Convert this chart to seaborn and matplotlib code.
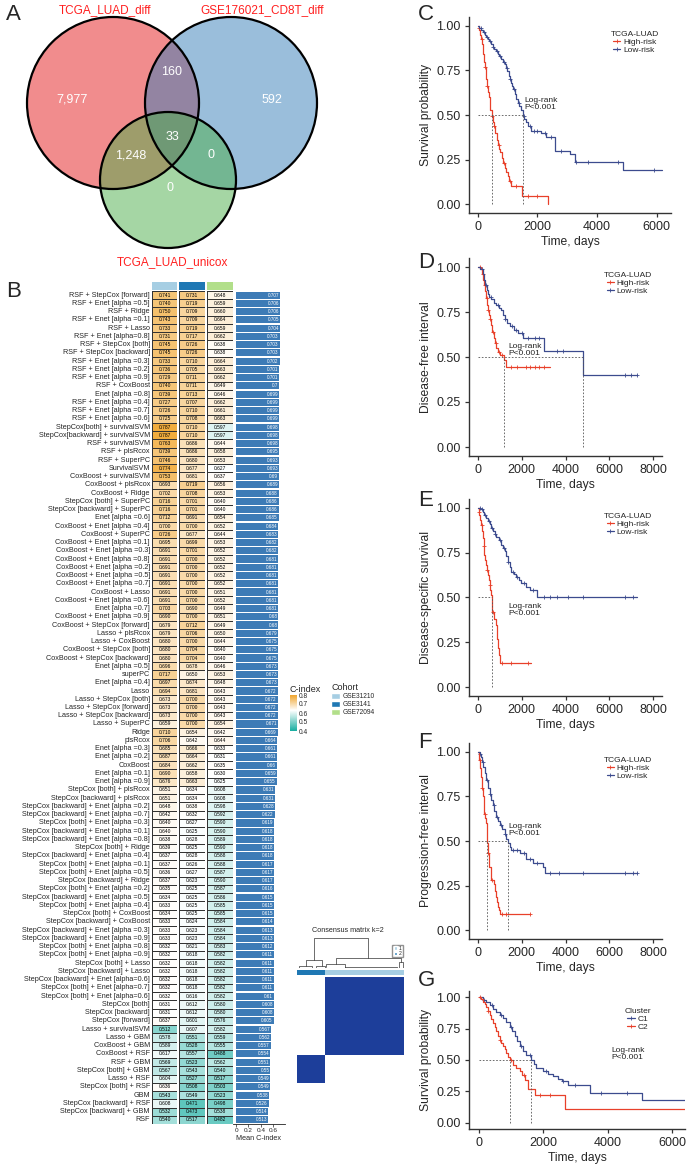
import numpy as np
import pandas as pd
import matplotlib
matplotlib.use("Agg")
import matplotlib.pyplot as plt
import matplotlib.colors as mcolors
import matplotlib.cm as cm
from matplotlib.colors import LinearSegmentedColormap, ListedColormap
from matplotlib.patches import Circle, Patch
from matplotlib.lines import Line2D
import seaborn as sns

# ---------------- data ----------------
# panel A
venn_sets = ["TCGA_LUAD_diff", "GSE176021_CD8T_diff", "TCGA_LUAD_unicox"]
venn_regions = ["diff", "cd8t", "unicox", "diff_cd8t", "diff_unicox", "cd8t_unicox", "all"]
venn_counts = [7977, 592, 0, 160, 1248, 0, 33]

# panel B
models = [
    "RSF + StepCox [forward]", "RSF + Enet [alpha =0.5]", "RSF + Ridge", "RSF + Enet [alpha =0.1]",
    "RSF + Lasso", "RSF + Enet [alpha=0.8]", "RSF + StepCox [both]", "RSF + StepCox [backward]",
    "RSF + Enet [alpha =0.3]", "RSF + Enet [alpha =0.2]", "RSF + Enet [alpha =0.9]", "RSF + CoxBoost",
    "Enet [alpha =0.8]", "RSF + Enet [alpha =0.4]", "RSF + Enet [alpha =0.7]", "RSF + Enet [alpha =0.6]",
    "StepCox[both] + survivalSVM", "StepCox[backward] + survivalSVM", "RSF + survivalSVM", "RSF + plsRcox",
    "RSF + SuperPC", "SurvivalSVM", "CoxBoost + survivalSVM", "CoxBoost + plsRcox", "CoxBoost + Ridge",
    "StepCox [both] + SuperPC", "StepCox [backward] + SuperPC", "Enet [alpha =0.6]",
    "CoxBoost + Enet [alpha =0.4]", "CoxBoost + SuperPC", "CoxBoost + Enet [alpha =0.1]",
    "CoxBoost + Enet [alpha =0.3]", "CoxBoost + Enet [alpha =0.8]", "CoxBoost + Enet [alpha =0.2]",
    "CoxBoost + Enet [alpha =0.5]", "CoxBoost + Enet [alpha =0.7]", "CoxBoost + Lasso",
    "CoxBoost + Enet [alpha =0.6]", "Enet [alpha =0.7]", "CoxBoost + Enet [alpha =0.9]",
    "CoxBoost + StepCox [forward]", "Lasso + plsRcox", "Lasso + CoxBoost", "CoxBoost + StepCox [both]",
    "CoxBoost + StepCox [backward]", "Enet [alpha =0.5]", "superPC", "Enet [alpha =0.4]", "Lasso",
    "Lasso + StepCox [both]", "Lasso + StepCox [forward]", "Lasso + StepCox [backward]", "Lasso + SuperPC",
    "Ridge", "plsRcox", "Enet [alpha =0.3]", "Enet [alpha =0.2]", "CoxBoost", "Enet [alpha =0.1]",
    "Enet [alpha =0.9]", "StepCox [both] + plsRcox", "StepCox [backward] + plsRcox",
    "StepCox [backward] + Enet [alpha =0.2]", "StepCox [backward] + Enet [alpha =0.7]",
    "StepCox [both] + Enet [alpha =0.3]", "StepCox [backward] + Enet [alpha =0.1]",
    "StepCox [backward] + Enet [alpha =0.8]", "StepCox [both] + Ridge",
    "StepCox [backward] + Enet [alpha =0.4]", "StepCox [both] + Enet [alpha =0.1]",
    "StepCox [both] + Enet [alpha =0.5]", "StepCox [backward] + Ridge", "StepCox [both] + Enet [alpha =0.2]",
    "StepCox [backward] + Enet [alpha =0.5]", "StepCox [both] + Enet [alpha =0.4]",
    "StepCox [both] + CoxBoost", "StepCox [backward] + CoxBoost", "StepCox [backward] + Enet [alpha =0.3]",
    "StepCox [backward] + Enet [alpha =0.9]", "StepCox [both] + Enet [alpha =0.8]",
    "StepCox [both] + Enet [alpha =0.9]", "StepCox [both] + Lasso", "StepCox [backward] + Lasso",
    "StepCox [backward] + Enet [alpha=0.6]", "StepCox [both] + Enet [alpha=0.7]",
    "StepCox [both] + Enet [alpha=0.6]", "StepCox [both]", "StepCox [backward]", "StepCox [forward]",
    "Lasso + survivalSVM", "Lasso + GBM", "CoxBoost + GBM", "CoxBoost + RSF", "RSF + GBM",
    "StepCox [both] + GBM", "Lasso + RSF", "StepCox [both] + RSF", "GBM", "StepCox [backward] + RSF",
    "StepCox [backward] + GBM", "RSF",
]
gse31210 = [0.741, 0.740, 0.750, 0.743, 0.733, 0.731, 0.745, 0.745, 0.733, 0.736, 0.729, 0.740, 0.739,
            0.727, 0.726, 0.725, 0.787, 0.787, 0.763, 0.739, 0.746, 0.774, 0.753, 0.693, 0.702, 0.716,
            0.716, 0.712, 0.700, 0.726, 0.695, 0.691, 0.691, 0.691, 0.691, 0.691, 0.691, 0.691, 0.703,
            0.690, 0.679, 0.679, 0.680, 0.680, 0.680, 0.696, 0.717, 0.697, 0.694, 0.673, 0.673, 0.673,
            0.659, 0.710, 0.706, 0.685, 0.687, 0.684, 0.690, 0.676, 0.651, 0.651, 0.648, 0.642, 0.640,
            0.640, 0.638, 0.639, 0.637, 0.637, 0.636, 0.637, 0.635, 0.634, 0.633, 0.634, 0.633, 0.633,
            0.633, 0.632, 0.632, 0.632, 0.632, 0.632, 0.632, 0.632, 0.631, 0.631, 0.637, 0.512, 0.578,
            0.589, 0.617, 0.569, 0.567, 0.604, 0.636, 0.543, 0.608, 0.532, 0.540]
gse3141 = [0.731, 0.719, 0.709, 0.709, 0.719, 0.717, 0.726, 0.726, 0.710, 0.705, 0.711, 0.711, 0.713,
           0.707, 0.710, 0.708, 0.710, 0.710, 0.686, 0.686, 0.680, 0.677, 0.681, 0.719, 0.708, 0.701,
           0.701, 0.691, 0.700, 0.677, 0.699, 0.701, 0.700, 0.700, 0.700, 0.700, 0.700, 0.700, 0.690,
           0.700, 0.712, 0.706, 0.700, 0.704, 0.704, 0.678, 0.650, 0.674, 0.681, 0.700, 0.700, 0.700,
           0.700, 0.654, 0.642, 0.666, 0.664, 0.662, 0.658, 0.663, 0.634, 0.634, 0.638, 0.632, 0.627,
           0.625, 0.628, 0.625, 0.628, 0.626, 0.627, 0.623, 0.625, 0.625, 0.625, 0.625, 0.624, 0.623,
           0.623, 0.621, 0.618, 0.618, 0.618, 0.618, 0.618, 0.616, 0.612, 0.612, 0.601, 0.607, 0.551,
           0.528, 0.557, 0.523, 0.543, 0.527, 0.508, 0.549, 0.471, 0.473, 0.517]
gse72094 = [0.648, 0.659, 0.660, 0.664, 0.659, 0.662, 0.638, 0.638, 0.664, 0.663, 0.662, 0.649, 0.646,
            0.662, 0.661, 0.663, 0.597, 0.597, 0.644, 0.658, 0.653, 0.627, 0.637, 0.656, 0.653, 0.640,
            0.640, 0.654, 0.652, 0.644, 0.653, 0.652, 0.652, 0.652, 0.652, 0.652, 0.651, 0.652, 0.649,
            0.651, 0.649, 0.650, 0.644, 0.640, 0.640, 0.646, 0.653, 0.648, 0.643, 0.643, 0.643, 0.643,
            0.654, 0.642, 0.644, 0.633, 0.631, 0.635, 0.630, 0.625, 0.608, 0.608, 0.598, 0.592, 0.590,
            0.590, 0.589, 0.590, 0.588, 0.588, 0.587, 0.590, 0.587, 0.586, 0.585, 0.585, 0.584, 0.584,
            0.584, 0.583, 0.582, 0.582, 0.582, 0.582, 0.582, 0.582, 0.580, 0.580, 0.576, 0.582, 0.559,
            0.555, 0.488, 0.562, 0.540, 0.517, 0.503, 0.523, 0.498, 0.538, 0.482]
mean_cindex = [0.707, 0.706, 0.706, 0.705, 0.704, 0.703, 0.703, 0.703, 0.702, 0.701, 0.701, 0.7, 0.699,
               0.699, 0.699, 0.699, 0.698, 0.698, 0.698, 0.695, 0.693, 0.693, 0.69, 0.689, 0.688, 0.686,
               0.686, 0.685, 0.684, 0.683, 0.682, 0.682, 0.681, 0.681, 0.681, 0.681, 0.681, 0.681, 0.681,
               0.68, 0.68, 0.679, 0.675, 0.675, 0.675, 0.673, 0.673, 0.673, 0.672, 0.672, 0.672, 0.672,
               0.671, 0.669, 0.664, 0.661, 0.661, 0.66, 0.659, 0.655, 0.631, 0.631, 0.628, 0.622, 0.619,
               0.618, 0.618, 0.618, 0.618, 0.617, 0.617, 0.617, 0.616, 0.615, 0.615, 0.615, 0.614, 0.613,
               0.613, 0.612, 0.611, 0.611, 0.611, 0.611, 0.611, 0.61, 0.608, 0.608, 0.605, 0.567, 0.562,
               0.557, 0.554, 0.551, 0.55, 0.549, 0.549, 0.538, 0.526, 0.514, 0.513]
cohorts = ["GSE31210", "GSE3141", "GSE72094"]

# consensus clustering (k=2): cluster sizes in plotted order (cluster 2, cluster 1)
cc_sizes = [26, 74]
cc_labels = [2, 1]
# dendrogram merges: (left x, right x, height, left child height, right child height)
cc_merges = [(15.5, 66.5, 0.94, 0.25, 0.31), (8, 23, 0.25, 0.06, 0.05), (36, 97, 0.31, 0.12, 0.18),
             (2, 14, 0.06, 0.0, 0.0), (18, 26, 0.05, 0.0, 0.0), (27, 45, 0.12, 0.04, 0.0),
             (45, 93, 0.04, 0.0, 0.0), (95, 99, 0.18, 0.0, 0.0)]

# KM curves (time in days, survival probability after each step)
c_high_t = [0, 30, 60, 90, 115, 140, 165, 190, 215, 240, 265, 290, 315, 345, 375, 405, 430, 470, 500,
            540, 590, 640, 680, 720, 765, 800, 840, 900, 950, 1010, 1065, 1130, 1490, 2355]
c_high_s = [1.0, 0.99, 0.975, 0.95, 0.925, 0.90, 0.87, 0.84, 0.80, 0.77, 0.73, 0.70, 0.66, 0.63, 0.60,
            0.57, 0.53, 0.495, 0.46, 0.44, 0.40, 0.36, 0.33, 0.31, 0.29, 0.26, 0.23, 0.20, 0.18, 0.155,
            0.13, 0.10, 0.047, 0.0]
c_high_cens = [45, 130, 250, 330, 480, 560, 700, 870, 1100, 1300, 1700, 2000]
c_low_t = [0, 60, 120, 170, 230, 280, 340, 393, 450, 505, 560, 617, 670, 729, 790, 841, 900, 953, 1000,
           1043, 1080, 1121, 1160, 1200, 1250, 1290, 1350, 1402, 1460, 1514, 1570, 1626, 1700, 1794,
           2131, 2299, 2580, 3084, 3252, 4856, 6168]
c_low_s = [1.0, 0.99, 0.975, 0.965, 0.95, 0.94, 0.925, 0.915, 0.90, 0.88, 0.87, 0.86, 0.845, 0.83,
           0.815, 0.80, 0.785, 0.766, 0.745, 0.72, 0.70, 0.68, 0.66, 0.645, 0.62, 0.59, 0.57, 0.55, 0.53,
           0.495, 0.48, 0.46, 0.44, 0.41, 0.40, 0.374, 0.30, 0.28, 0.234, 0.19, 0.19]
c_low_cens = [100, 200, 310, 420, 530, 640, 760, 880, 980, 1100, 1230, 1380, 1540, 1750, 1900, 2000,
              2250, 2450, 2800, 3300, 3700, 4700, 5900]

d_high_t = [0, 150, 200, 260, 300, 352, 390, 413, 450, 490, 550, 612, 660, 719, 780, 842, 910, 995, 1178,
            1270, 3290]
d_high_s = [1.0, 0.99, 0.96, 0.93, 0.90, 0.866, 0.83, 0.79, 0.76, 0.735, 0.71, 0.68, 0.64, 0.605, 0.58,
            0.55, 0.53, 0.51, 0.484, 0.447, 0.447]
d_high_cens = [100, 230, 330, 400, 470, 580, 700, 820, 960, 1100, 1500, 1800, 2200, 2400, 2600, 2800, 3000]
d_low_t = [0, 120, 230, 290, 352, 410, 459, 530, 612, 720, 842, 950, 1071, 1150, 1224, 1330, 1454, 1650,
           1836, 2066, 3030, 4820, 7270]
d_low_s = [1.0, 0.99, 0.96, 0.93, 0.90, 0.87, 0.85, 0.835, 0.82, 0.80, 0.79, 0.775, 0.76, 0.735, 0.71,
           0.69, 0.67, 0.65, 0.633, 0.605, 0.534, 0.40, 0.40]
d_low_cens = [180, 380, 600, 900, 1250, 1550, 1750, 2000, 2300, 2600, 2800, 3600, 3900, 6700, 7000, 7250]

e_high_t = [0, 40, 77, 115, 153, 190, 230, 270, 306, 345, 383, 420, 459, 500, 536, 575, 612, 650, 740,
            811, 872, 920, 964, 1025, 2448]
e_high_s = [1.0, 0.98, 0.96, 0.935, 0.906, 0.87, 0.83, 0.785, 0.74, 0.71, 0.68, 0.655, 0.626, 0.60,
            0.57, 0.54, 0.514, 0.42, 0.38, 0.346, 0.27, 0.22, 0.178, 0.135, 0.135]
e_high_cens = [60, 170, 300, 440, 560, 700, 1100, 1500, 2300]
e_low_t = [0, 120, 230, 300, 383, 460, 540, 612, 700, 770, 842, 950, 1071, 1150, 1224, 1300, 1377, 1450,
           1530, 1650, 1760, 1870, 1989, 2219, 2372, 2678, 7270]
e_low_s = [1.0, 0.995, 0.98, 0.96, 0.944, 0.925, 0.91, 0.89, 0.87, 0.855, 0.84, 0.82, 0.794, 0.775,
           0.757, 0.73, 0.70, 0.67, 0.645, 0.63, 0.617, 0.60, 0.58, 0.56, 0.542, 0.505, 0.505]
e_low_cens = [80, 200, 350, 500, 650, 800, 1000, 1200, 1400, 1600, 1800, 2100, 2500, 3000, 3300, 3600,
              4100, 4800, 6700, 7100]

f_high_t = [0, 40, 77, 115, 153, 190, 230, 270, 306, 350, 383, 413, 450, 505, 581, 734, 770, 811, 860,
            918, 970, 1025, 2402]
f_high_s = [1.0, 0.985, 0.953, 0.91, 0.86, 0.80, 0.75, 0.70, 0.654, 0.63, 0.60, 0.486, 0.43, 0.355, 0.28,
            0.26, 0.22, 0.187, 0.16, 0.13, 0.11, 0.09, 0.09]
f_high_cens = [90, 210, 330, 470, 650, 1100, 1300, 2400]
f_low_t = [0, 80, 153, 210, 260, 320, 383, 460, 536, 610, 689, 760, 842, 920, 995, 1100, 1224, 1300,
           1377, 1450, 1530, 1913, 2219, 2525, 2984, 3060, 7270]
f_low_s = [1.0, 0.99, 0.97, 0.945, 0.916, 0.88, 0.84, 0.80, 0.766, 0.73, 0.70, 0.67, 0.635, 0.61, 0.59,
           0.565, 0.54, 0.51, 0.486, 0.465, 0.45, 0.43, 0.40, 0.374, 0.355, 0.32, 0.32]
f_low_cens = [100, 240, 400, 580, 720, 880, 1050, 1250, 1600, 1800, 2100, 2400, 2700, 3300, 3700, 4800,
              6700, 7100, 7250]

g_c1_t = [0, 125, 230, 333, 440, 541, 650, 749, 850, 957, 1040, 1113, 1190, 1269, 1370, 1477, 1633, 1700,
          1789, 1997, 2150, 2309, 2450, 2569, 2777, 3453, 5065, 6417]
g_c1_s = [1.0, 0.98, 0.96, 0.94, 0.91, 0.886, 0.86, 0.833, 0.80, 0.767, 0.73, 0.688, 0.65, 0.61, 0.575,
          0.54, 0.50, 0.47, 0.437, 0.41, 0.39, 0.37, 0.35, 0.33, 0.304, 0.233, 0.178, 0.178]
g_c1_cens = [150, 400, 700, 1000, 1300, 1600, 2100, 2600, 3000, 3800, 4600]
g_c2_t = [0, 60, 125, 180, 229, 280, 333, 385, 437, 490, 541, 590, 645, 700, 749, 800, 853, 905, 957,
          1061, 1160, 1269, 1350, 1425, 1529, 1737, 2673, 6417]
g_c2_s = [1.0, 0.985, 0.966, 0.945, 0.926, 0.89, 0.86, 0.83, 0.794, 0.76, 0.73, 0.695, 0.66, 0.635,
          0.61, 0.585, 0.556, 0.525, 0.50, 0.463, 0.44, 0.41, 0.38, 0.344, 0.265, 0.225, 0.11, 0.11]
g_c2_cens = [50, 300, 650, 1000, 1400, 1900, 2200]

# ---------------- style ----------------
sns.set_theme(style="ticks")
plt.rcParams['font.family'] = ['Liberation Sans', 'DejaVu Sans']
plt.rcParams['axes.linewidth'] = 1.0

RED = "#e8402a"
BLUE = "#3c4b8e"
W, H = 690, 1172
fig = plt.figure(figsize=(W / 100, H / 100), dpi=100)


def px_axes(x0, y0, x1, y1):
    return fig.add_axes([x0 / W, 1 - y1 / H, (x1 - x0) / W, (y1 - y0) / H])


def letter(x, y, s):
    fig.text(x / W, 1 - y / H, s, fontsize=16, va="center", ha="left")


# ---------------- A: venn ----------------
axv = px_axes(0, 0, 390, 280)
axv.set_xlim(0, 390)
axv.set_ylim(280, 0)
axv.set_aspect("equal")
axv.axis("off")
circ_xy = [(113, 103), (231, 103), (168, 180)]
circ_r = [86, 86, 68]
circ_col = ["#e41a1c", "#377eb8", "#4daf4a"]
for (cx, cy), r, col in zip(circ_xy, circ_r, circ_col):
    axv.add_patch(Circle((cx, cy), r, facecolor=col, alpha=0.5, edgecolor="none"))
for (cx, cy), r in zip(circ_xy, circ_r):
    axv.add_patch(Circle((cx, cy), r, fill=False, edgecolor="black", lw=1.6))
region_xy = {"diff": (72, 100), "cd8t": (272, 100), "unicox": (170, 188), "diff_cd8t": (172, 72),
             "diff_unicox": (131, 155), "cd8t_unicox": (211, 155), "all": (172, 137)}
for reg, n in zip(venn_regions, venn_counts):
    x, y = region_xy[reg]
    axv.text(x, y, f"{n:,}", color="white", fontsize=9, ha="center", va="center")
set_xy = [(105, 10), (262, 10), (172, 262)]
for name, (x, y) in zip(venn_sets, set_xy):
    axv.text(x, y, name, color="#ff1f1f", fontsize=8.5, ha="center", va="center")
letter(6, 14, "A")

# ---------------- B: heatmap ----------------
letter(6, 292, "B")
cmap_c = LinearSegmentedColormap.from_list("cidx", [(0, "#17ada0"), (0.575, "#ffffff"), (1, "#f0a52e")])
cohort_colors = ["#a6cee3", "#1f78b4", "#b2df8a"]
col_x = [(152, 177), (179, 205), (207, 233)]
row_top, row_bot = 291, 1124
for i, vals in enumerate([gse31210, gse3141, gse72094]):
    ax = px_axes(col_x[i][0], row_top, col_x[i][1], row_bot)
    df = pd.DataFrame({cohorts[i]: vals}, index=models)
    sns.heatmap(df, ax=ax, cmap=cmap_c, vmin=0.4, vmax=0.8, cbar=False,
                annot=np.array([[f"{v:.3f}"] for v in vals]), fmt="",
                annot_kws={"size": 3.5, "color": "black"},
                linewidths=0.6, linecolor="#333333", xticklabels=False,
                yticklabels=models if i == 0 else False)
    ax.tick_params(axis="y", length=0, pad=1.5, labelsize=5.2)
    ax.set_ylabel("")
    axh = px_axes(col_x[i][0], 282, col_x[i][1], 290)
    sns.heatmap([[0]], ax=axh, cmap=ListedColormap([cohort_colors[i]]), cbar=False,
                xticklabels=False, yticklabels=False)

axb = px_axes(233, row_top, 285, row_bot)
sns.barplot(x=mean_cindex, y=models, order=models, orient="h", color="#3d7bb6", saturation=1,
            width=0.86, linewidth=0, ax=axb)
axb.set_xlim(-0.05, 0.79)
axb.set_ylim(len(models) - 0.5, -0.5)
axb.set_yticks([])
axb.set_ylabel("")
for s in ["top", "right", "left"]:
    axb.spines[s].set_visible(False)
axb.spines["bottom"].set_linewidth(0.6)
axb.spines["bottom"].set_color("#222222")
axb.set_xticks([0, 0.2, 0.4, 0.6])
axb.set_xticklabels(["0", "0.2", "0.4", "0.6"])
axb.tick_params(axis="x", labelsize=4.6, length=2, width=0.5, pad=1)
axb.set_xlabel("Mean C-index", fontsize=5.2, labelpad=1)
for k, v in enumerate(mean_cindex):
    axb.text(v - 0.012, k, f"{v:.3f}".rstrip("0"), color="white", fontsize=3.3, ha="right", va="center")

# C-index legend
fig.text(290 / W, 1 - 689 / H, "C-index", fontsize=6.5, va="center", ha="left")
axcb = px_axes(290, 695, 297, 731)
sm = cm.ScalarMappable(norm=mcolors.Normalize(0.4, 0.8), cmap=cmap_c)
cb = fig.colorbar(sm, cax=axcb, ticks=[0.4, 0.5, 0.6, 0.7, 0.8])
cb.outline.set_visible(False)
axcb.tick_params(labelsize=4.8, length=0, pad=1)
fig.legend(handles=[Patch(facecolor=c, label=l) for c, l in zip(cohort_colors, cohorts)],
           title="Cohort", loc="upper left", bbox_to_anchor=(331 / W, 1 - 683 / H), fontsize=4.8,
           title_fontsize=6.5, frameon=False, handlelength=1.3, handleheight=0.9, handletextpad=0.4,
           labelspacing=0.15, borderpad=0, borderaxespad=0, alignment="left")

# consensus matrix
n_cc = sum(cc_sizes)
col_lab = np.repeat(cc_labels, cc_sizes)
row_lab = col_lab[::-1]
cmat = (row_lab[:, None] == col_lab[None, :]).astype(float)
axc = px_axes(297, 977, 404, 1083)
sns.heatmap(cmat, ax=axc, cmap=LinearSegmentedColormap.from_list("cc", ["#ffffff", "#1d3e9a"]),
            vmin=0, vmax=1, cbar=False, xticklabels=False, yticklabels=False)
axcl = px_axes(297, 970, 404, 975)
sns.heatmap(col_lab[None, :], ax=axcl, cmap=ListedColormap(["#a6cee3", "#1f78b4"]), vmin=1, vmax=2,
            cbar=False, xticklabels=False, yticklabels=False)
axd = px_axes(297, 936, 404, 968)
axd.set_xlim(0, n_cc)
axd.set_ylim(0, 1)
axd.axis("off")
for xl, xr, h, hl, hr in cc_merges:
    axd.plot([xl, xl, xr, xr], [hl, h, h, hr], color="#333333", lw=0.5)
fig.text(348 / W, 1 - 931 / H, "Consensus matrix k=2", fontsize=5.2, ha="center", va="center")
axc.legend(handles=[Patch(facecolor="#a6cee3", label="1"), Patch(facecolor="#1f78b4", label="2")],
           loc="upper right", bbox_to_anchor=(1.01, 1.33), fontsize=3.6, frameon=True, handlelength=0.7,
           handleheight=0.6, handletextpad=0.3, labelspacing=0.05, borderpad=0.25, edgecolor="#777777",
           fancybox=False)

# ---------------- C-G: KM curves ----------------


def km_panel(rect, curves, xlim, xticks, ylabel, legend_title, text_xy, leg_anchor, lab):
    ax = px_axes(*rect)
    meds = []
    handles = []
    for t, s, cens, col, label in curves:
        t = np.asarray(t, float)
        s = np.asarray(s, float)
        sns.lineplot(x=t, y=s, drawstyle="steps-post", color=col, lw=0.9, ax=ax, legend=False,
                     estimator=None, sort=False)
        cens = np.asarray(cens, float)
        idx = np.searchsorted(t, cens, side="right") - 1
        sns.scatterplot(x=cens, y=s[idx], marker="+", s=9, linewidth=0.6, color=col, ax=ax, legend=False)
        below = np.nonzero(s <= 0.5)[0]
        if len(below):
            meds.append(t[below[0]])
        handles.append(Line2D([], [], color=col, lw=0.9, marker="+", ms=3, mew=0.6, label=label))
    if meds:
        ax.plot([0, max(meds)], [0.5, 0.5], color="#555555", lw=0.6, ls=(0, (2, 2)))
        for m in meds:
            ax.plot([m, m], [0, 0.5], color="#555555", lw=0.6, ls=(0, (2, 2)))
    ax.set_xlim(*xlim)
    ax.set_ylim(-0.05, 1.05)
    ax.set_xticks(xticks)
    ax.set_yticks([0, 0.25, 0.5, 0.75, 1.0])
    ax.set_yticklabels(["0.00", "0.25", "0.50", "0.75", "1.00"])
    ax.tick_params(labelsize=9, length=3, width=0.9, color="#333333", pad=3)
    for sp in ["top", "right"]:
        ax.spines[sp].set_visible(False)
    for sp in ["left", "bottom"]:
        ax.spines[sp].set_color("#333333")
    ax.set_xlabel("Time, days", fontsize=8.7, labelpad=2)
    ax.set_ylabel(ylabel, fontsize=8.7, labelpad=3)
    ax.text(text_xy[0], text_xy[1], "Log-rank\nP<0.001", fontsize=6, ha="left", va="bottom",
            color="#222222", linespacing=1.1)
    ax.legend(handles=handles, title=legend_title, loc="upper left", bbox_to_anchor=leg_anchor,
              fontsize=6, title_fontsize=6, frameon=False, handlelength=0.9, handletextpad=0.3,
              labelspacing=0.05, borderpad=0, borderaxespad=0)
    letter(418, lab[1], lab[0])
    return ax


hl = ["High-risk", "Low-risk"]
km_panel((469, 17, 671, 213),
         [(c_high_t, c_high_s, c_high_cens, RED, hl[0]), (c_low_t, c_low_s, c_low_cens, BLUE, hl[1])],
         (-290, 6480), [0, 2000, 4000, 6000], "Survival probability", "TCGA-LUAD", (1560, 0.52),
         (0.70, 0.93), ("C", 15))
km_panel((469, 258, 662, 456),
         [(d_high_t, d_high_s, d_high_cens, RED, hl[0]), (d_low_t, d_low_s, d_low_cens, BLUE, hl[1])],
         (-400, 8400), [0, 2000, 4000, 6000, 8000], "Disease-free interval", "TCGA-LUAD", (1377, 0.50),
         (0.70, 0.93), ("D", 262))
km_panel((469, 499, 662, 696),
         [(e_high_t, e_high_s, e_high_cens, RED, hl[0]), (e_low_t, e_low_s, e_low_cens, BLUE, hl[1])],
         (-400, 8400), [0, 2000, 4000, 6000, 8000], "Disease-specific survival", "TCGA-LUAD",
         (1377, 0.39), (0.70, 0.93), ("E", 500))
km_panel((469, 743, 662, 939),
         [(f_high_t, f_high_s, f_high_cens, RED, hl[0]), (f_low_t, f_low_s, f_low_cens, BLUE, hl[1])],
         (-400, 8400), [0, 2000, 4000, 6000, 8000], "Progression-free interval", "TCGA-LUAD",
         (1377, 0.52), (0.70, 0.93), ("F", 743))
km_panel((469, 991, 685, 1129),
         [(g_c1_t, g_c1_s, g_c1_cens, BLUE, "C1"), (g_c2_t, g_c2_s, g_c2_cens, RED, "C2")],
         (-305, 6400), [0, 2000, 4000, 6000], "Survival probability", "Cluster", (4129, 0.49),
         (0.72, 0.88), ("G", 980))

fig.savefig("out.png", dpi=100)
